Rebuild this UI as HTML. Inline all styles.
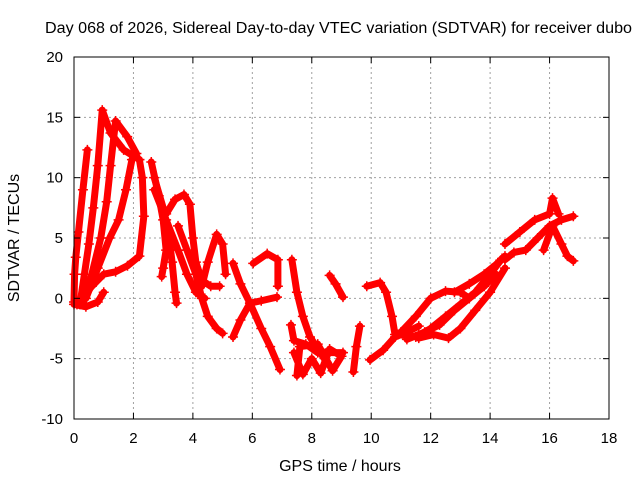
<!DOCTYPE html>
<html><head><meta charset="utf-8"><style>
html,body{margin:0;padding:0;background:#fff;}
svg text{font-family:"Liberation Sans",sans-serif;fill:#000;}
</style></head><body>
<svg id="chart" width="640" height="480" viewBox="0 0 640 480">
<rect width="640" height="480" fill="#fff"/>
<text x="45" y="33" font-size="15.5" textLength="587" lengthAdjust="spacingAndGlyphs">Day 068 of 2026, Sidereal Day-to-day VTEC variation (SDTVAR) for receiver dubo</text>
<g id="grid"></g>
<g id="series"></g>
<g id="axes"></g>
<text x="340" y="471" text-anchor="middle" font-size="16">GPS time / hours</text>
<text transform="translate(19,238) rotate(-90)" text-anchor="middle" font-size="16">SDTVAR / TECUs</text>
</svg>
<script>
const xTicks=[0,2,4,6,8,10,12,14,16,18];
const yTicks=[-10,-5,0,5,10,15,20];
const tracks=[
[[0,-0.3],[0.02,2],[0.06,3.4],[0.15,5.5],[0.3,9],[0.45,12.3]],
[[0.2,-0.5],[0.35,2],[0.5,4.5],[0.65,7.5],[0.8,11],[0.95,15.6],[1.23,13.7],[1.67,12.3],[2.2,11.5]],
[[0.3,-0.5],[0.6,2],[0.9,5],[1.1,8],[1.23,11],[1.4,14.7],[1.79,13.4],[2.1,12]],
[[0.4,0],[0.8,2.5],[1.2,5],[1.5,6.5],[1.75,9],[1.95,11.5]],
[[0.1,-0.5],[0.6,1],[1.0,2],[1.4,2.2],[1.8,2.7],[2.2,3.5],[2.35,6.8],[2.3,10],[2.2,11.5]],
[[0,-0.5],[0.4,-0.7],[0.8,-0.3],[1.0,0.5]],
[[2.6,11.3],[2.85,8.5],[3.0,6.5],[3.1,4],[3.0,2.5],[2.95,1.8]],
[[2.7,10],[3.0,7.5],[3.2,5],[3.3,3],[3.4,0.5],[3.45,-0.4]],
[[2.7,9],[3.1,6.5],[3.5,4],[3.8,2],[4.1,0.5],[4.4,0]],
[[3.1,7],[3.4,8.2],[3.7,8.6],[3.9,7.8],[4.0,5],[4.1,3],[4.3,1.5],[4.6,1],[4.9,1]],
[[3.5,6],[3.8,4],[4.1,2],[4.3,0],[4.5,-1.5],[4.8,-2.5],[5.0,-2.9]],
[[4.3,1],[4.5,3],[4.8,5.3],[5.0,4.5],[5.1,2]],
[[5.35,2.9],[5.6,1.2],[5.92,-0.4],[6.3,-2.5],[6.6,-4],[6.93,-5.9]],
[[5.35,-3.2],[5.6,-1.8],[5.92,-0.4],[6.3,-0.2],[6.83,0.1]],
[[6.03,2.9],[6.5,3.7],[6.86,3.2],[6.86,1.0]],
[[7.33,3.2],[7.5,0.5],[7.7,-1.5],[7.94,-3.2],[8.5,-5.3]],
[[7.4,-4.5],[7.7,-6.3],[8.0,-5],[8.3,-6.2],[8.6,-4.2],[9.0,-4.8],[8.7,-6],[8.2,-3.8],[7.6,-4],[7.5,-6.4]],
[[7.3,-2.2],[7.4,-3.5],[7.8,-3.8],[8.2,-4.5],[9.05,-4.5]],
[[8.6,1.9],[8.8,1.2],[9.05,0.1]],
[[9.62,-2.3],[9.5,-4],[9.4,-6.1]],
[[9.85,1.0],[10.3,1.3],[10.5,0.5],[10.7,-1.5],[10.8,-3]],
[[9.96,-5.1],[10.4,-4.3],[10.8,-3.2],[11.2,-2.8],[11.6,-2.3]],
[[10.9,-3],[11.5,-3.2],[12,-2.5],[12.5,-1.5],[13,-0.5],[13.5,0.5],[14,2],[14.4,3.3]],
[[11,-2.8],[11.5,-1.5],[12,0],[12.5,0.6],[13,0.5],[13.3,0]],
[[11.2,-3.4],[11.8,-2.8],[12.3,-2.2],[12.8,-1],[13.3,0],[13.8,1],[14.2,2]],
[[11.6,-3.3],[12.1,-3],[12.6,-3.3],[13.0,-2.5],[13.5,-1],[14,0.5],[14.5,2.5]],
[[12.8,0.5],[13.3,1.2],[13.8,2],[14.2,2.8],[14.5,3.5]],
[[14.5,3.2],[14.8,3.8],[15.2,4],[15.6,5],[16,6],[16.4,6.5],[16.8,6.8]],
[[14.5,4.5],[15,5.5],[15.5,6.5],[16,7],[16.1,8.3],[16.3,7]],
[[15.8,4],[16.1,6],[16.4,4.5],[16.6,3.5],[16.8,3.1]]
];
const NS='http://www.w3.org/2000/svg';
const L=74,R=609,T=57,B=419,xMin=0,xMax=18,yMin=-10,yMax=20;
const xs=v=>L+(v-xMin)/(xMax-xMin)*(R-L);
const ys=v=>B-(v-yMin)/(yMax-yMin)*(B-T);
function mk(tag,attrs,parent){const e=document.createElementNS(NS,tag);for(const k in attrs)e.setAttribute(k,attrs[k]);parent.appendChild(e);return e;}
const grid=document.getElementById('grid'),axes=document.getElementById('axes'),series=document.getElementById('series');
xTicks.forEach(t=>{
  const x=xs(t);
  if(t>xMin&&t<xMax){const g=mk('line',{x1:x,y1:T,x2:x,y2:B,stroke:'#a0a0a0','stroke-dasharray':'2,3'},grid);
  
  }
  mk('line',{x1:x,y1:B,x2:x,y2:B-6,stroke:'#000'},axes);
  mk('line',{x1:x,y1:T,x2:x,y2:T+6,stroke:'#000'},axes);
  const tx=mk('text',{x:x,y:B+24,'text-anchor':'middle','font-size':'15'},axes);
  tx.textContent=t;
  
  
});
yTicks.forEach(t=>{
  const y=ys(t);
  if(t>yMin&&t<yMax){const g=mk('line',{x1:L,y1:y,x2:R,y2:y,stroke:'#a0a0a0','stroke-dasharray':'2,3'},grid);
  
  }
  mk('line',{x1:L,y1:y,x2:L+6,y2:y,stroke:'#000'},axes);
  mk('line',{x1:R,y1:y,x2:R-6,y2:y,stroke:'#000'},axes);
  const tx=mk('text',{x:L-11,y:y+5,'text-anchor':'end','font-size':'15'},axes);
  tx.textContent=t;
  
  
});
const frame=mk('rect',{x:L,y:T,width:R-L,height:B-T,fill:'none',stroke:'#000'},axes);


tracks.forEach(tr=>{
  const pl=mk('polyline',{points:tr.map(p=>xs(p[0])+','+ys(p[1])).join(' '),fill:'none',stroke:'#ff0000','stroke-width':7,'stroke-linejoin':'round','stroke-linecap':'round'},series);
  
  
  tr.forEach(p=>{
    const x=xs(p[0]),y=ys(p[1]);
    const m=mk('path',{d:`M${x-5},${y}H${x+5}M${x},${y-5}V${y+5}`,stroke:'#ff0000','stroke-width':1.5},series);
    
    
  });
});
</script>
</body></html>
